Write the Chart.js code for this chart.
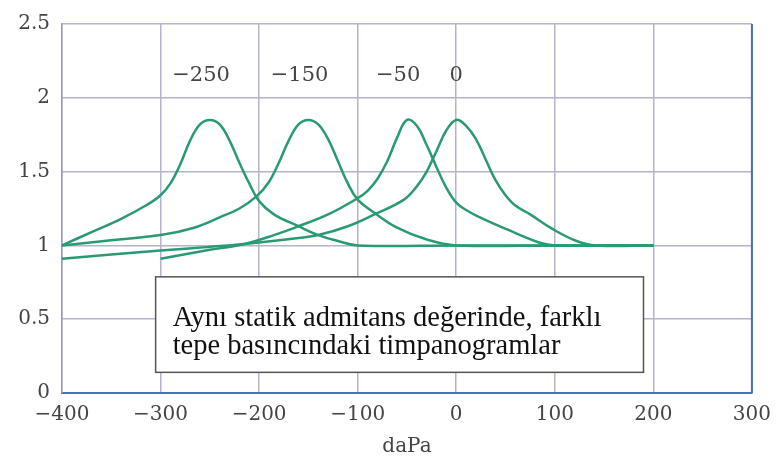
<!DOCTYPE html>
<html>
<head>
<meta charset="utf-8">
<script src="https://cdn.jsdelivr.net/npm/chart.js@4"></script>
<style>
  html, body { margin: 0; padding: 0; background: #fff; }
  #wrap { width: 781px; height: 471px; }
</style>
</head>
<body>
<div id="wrap"><canvas id="myChart" width="781" height="471"></canvas></div>
<script>
// pressure (daPa) and admittance readings for each tympanogram
const pressA = [-400, -370, -340, -315, -300, -290, -280, -270, -260, -250, -240, -230, -220, -210, -200, -185, -160, -140, -120, -100, 0, 100, 200];
const admitA = [1.0, 1.09, 1.18, 1.27, 1.34, 1.42, 1.55, 1.71, 1.82, 1.85, 1.82, 1.71, 1.56, 1.42, 1.30, 1.21, 1.13, 1.07, 1.03, 1.0, 1.0, 1.0, 1.0];

const pressB = [-400, -357, -300, -266, -240, -220, -203, -190, -180, -170, -160, -150, -140, -130, -120, -110, -100, -85, -60, -30, 0, 100, 200];
const admitB = [1.0, 1.03, 1.07, 1.12, 1.19, 1.25, 1.33, 1.43, 1.56, 1.71, 1.82, 1.85, 1.82, 1.72, 1.57, 1.42, 1.31, 1.23, 1.12, 1.04, 1.0, 1.0, 1.0];

const pressC = [-300, -250, -215, -185, -160, -130, -100, -90, -80, -70, -60, -50, -40, -30, -20, -10, 0, 10, 24, 51, 84, 100, 200];
const admitC = [0.91, 0.97, 1.01, 1.07, 1.13, 1.21, 1.32, 1.37, 1.45, 1.57, 1.73, 1.85, 1.81, 1.68, 1.53, 1.39, 1.29, 1.24, 1.19, 1.11, 1.02, 1.0, 1.0];

const pressD = [-400, -300, -250, -215, -160, -140, -110, -83, -53, -40, -30, -20, -10, 0, 10, 20, 30, 40, 50, 60, 75, 98, 122, 142, 200];
const admitD = [0.91, 0.965, 0.99, 1.01, 1.05, 1.07, 1.13, 1.21, 1.31, 1.40, 1.50, 1.64, 1.78, 1.85, 1.81, 1.72, 1.58, 1.44, 1.34, 1.27, 1.21, 1.11, 1.03, 1.0, 1.0];

const peakLabels = [-250, -150, -50, 0];
const noteLines = ['Aynı statik admitans değerinde, farklı', 'tepe basıncındaki timpanogramlar'];

const green = '#2a9a73';
const gridGray = '#b4b4ca';
const axisBlue = '#4a6fc0';

function pts(xs, ys) {
    return xs.map((x, i) => ({x: x, y: ys[i]}));
}
function minus(v) {
    return String(v).replace('-', '\u2212');
}

const curves = [[pressA, admitA], [pressB, admitB], [pressC, admitC], [pressD, admitD]];

const extras = {
    id: 'extras',
    afterDatasetsDraw(chart) {
        const ctx = chart.ctx;
        const xs = chart.scales.x, ys = chart.scales.y;
        const area = chart.chartArea;
        ctx.save();
        // right frame
        ctx.strokeStyle = axisBlue;
        ctx.lineWidth = 2;
        ctx.beginPath();
        ctx.moveTo(area.right, area.top);
        ctx.lineTo(area.right, area.bottom);
        ctx.stroke();

        // peak pressure labels
        ctx.font = '21px "DejaVu Serif"';
        ctx.fillStyle = '#444';
        ctx.textBaseline = 'middle';
        ctx.textAlign = 'center';
        const mw = ctx.measureText('\u2212').width;
        peakLabels.forEach(v => {
            const shift = v < 0 ? mw / 2 : 0;
            ctx.fillText(minus(v), xs.getPixelForValue(v) - shift, ys.getPixelForValue(2.15));
        });

        // note box
        const bx0 = xs.getPixelForValue(-305), bx1 = xs.getPixelForValue(190);
        const by0 = ys.getPixelForValue(0.787), by1 = ys.getPixelForValue(0.14);
        ctx.fillStyle = '#fff';
        ctx.fillRect(bx0, by0, bx1 - bx0, by1 - by0);
        ctx.strokeStyle = '#555';
        ctx.lineWidth = 1.5;
        ctx.strokeRect(bx0, by0, bx1 - bx0, by1 - by0);
        ctx.font = '28.5px "Liberation Serif"';
        ctx.fillStyle = '#111';
        ctx.textAlign = 'left';
        ctx.textBaseline = 'alphabetic';
        noteLines.forEach((t, i) => {
            ctx.fillText(t, bx0 + 17, by0 + 49 + i * 28);
        });
        ctx.restore();
    }
};

const config = {
    type: 'line',
    data: {
        datasets: curves.map(c => ({
            data: pts(c[0], c[1]),
            borderColor: green,
            borderWidth: 2.5,
            pointRadius: 0,
            tension: 0.4,
            fill: false
        }))
    },
    options: {
        responsive: false,
        animation: false,
        layout: {padding: {top: 17, right: 24, left: 0, bottom: 0}},
        plugins: {
            legend: {display: false},
            tooltip: {enabled: false}
        },
        scales: {
            x: {
                type: 'linear',
                min: -400,
                max: 300,
                afterFit: s => { s.height = 78; },
                ticks: {
                    stepSize: 100,
                    padding: 10,
                    color: '#444',
                    font: {family: 'DejaVu Serif', size: 20},
                    callback: v => minus(v),
                    maxRotation: 0
                },
                grid: {
                    color: c => (c.tick && c.tick.value === 300) ? axisBlue : gridGray,
                    lineWidth: 1.5,
                    drawTicks: false
                },
                border: {color: axisBlue, width: 2},
                title: {
                    display: true,
                    text: 'daPa',
                    color: '#444',
                    font: {family: 'DejaVu Serif', size: 20},
                    padding: {top: 4, bottom: 12}
                }
            },
            y: {
                min: 0,
                max: 2.5,
                afterFit: s => { s.width = 62; },
                ticks: {
                    stepSize: 0.5,
                    padding: 12,
                    color: '#444',
                    font: {family: 'DejaVu Serif', size: 20},
                    callback: v => String(v)
                },
                grid: {
                    color: gridGray,
                    lineWidth: 1.5,
                    drawTicks: false
                },
                border: {color: '#9a9ab4', width: 1.5}
            }
        }
    },
    plugins: [extras]
};

const myChart = new Chart(document.getElementById('myChart'), config);
</script>
</body>
</html>
